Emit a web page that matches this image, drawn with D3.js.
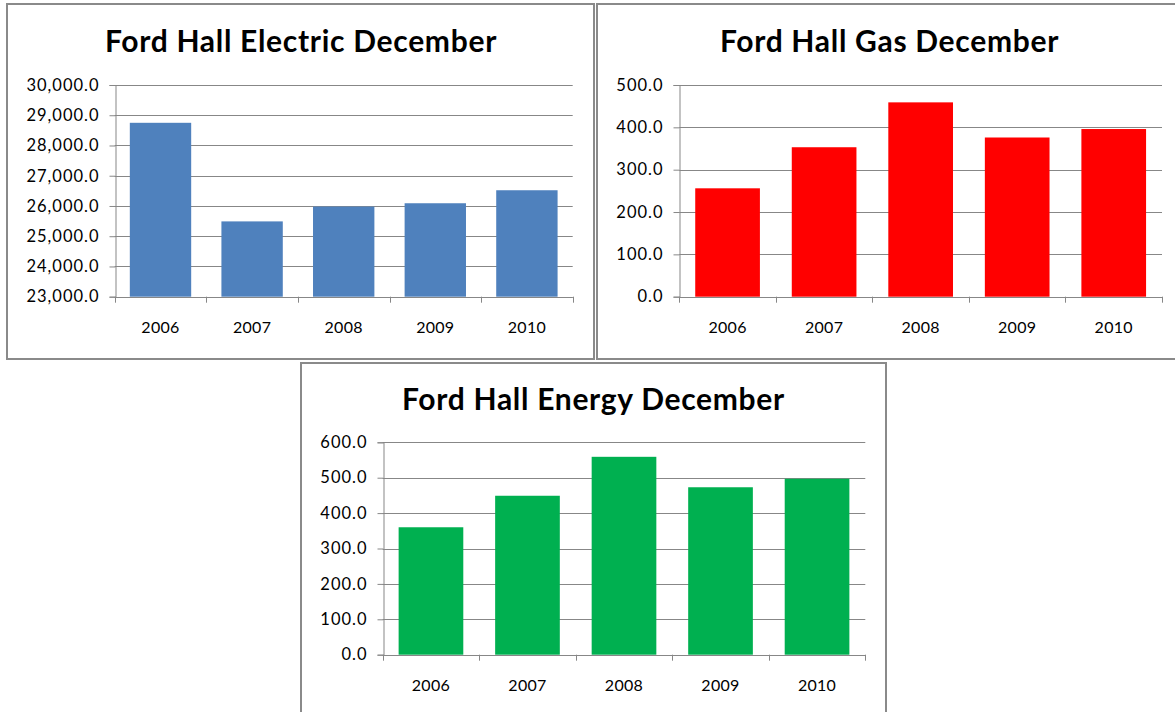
<!DOCTYPE html>
<html>
<head>
<meta charset="utf-8">
<script src="https://cdn.jsdelivr.net/npm/d3@7"></script>
<style>
  body { margin: 0; background: #fff; }
  text { font-family: Lato, "Open Sans", sans-serif; fill: #000; }
</style>
</head>
<body>
<svg id="chart" width="1175" height="712"></svg>
<script>
const years = ["2006", "2007", "2008", "2009", "2010"];
const electricValues = [28750, 25490, 25980, 26090, 26520];
const gasValues = [256, 353, 459, 376, 396];
const energyValues = [360, 449, 559, 473, 497];
const electricTicks = [23000, 24000, 25000, 26000, 27000, 28000, 29000, 30000];
const gasTicks = [0, 100, 200, 300, 400, 500];
const energyTicks = [0, 100, 200, 300, 400, 500, 600];

const svg = d3.select("#chart");
const fmt = d3.format(",.1f");

// one chart panel: frame box, title, gridlines, axes, bars
const drawChart = (opt) => {
  const g = svg.append("g");

  g.append("rect")
    .attr("x", opt.frame[0])
    .attr("y", opt.frame[1])
    .attr("width", opt.frame[2])
    .attr("height", opt.frame[3])
    .attr("fill", "#fff")
    .attr("stroke", "#8a8a8a")
    .attr("stroke-width", 2);

  g.append("text")
    .attr("x", opt.titleX)
    .attr("y", opt.titleY)
    .attr("text-anchor", "middle")
    .style("font-weight", "bold")
    .style("font-size", "30px")
    .style("letter-spacing", "0.7px")
    .text(opt.title);

  const x = d3.scaleBand()
    .domain(years)
    .range([opt.left, opt.right])
    .paddingInner(0.33)
    .paddingOuter(0.165);

  const y = d3.scaleLinear()
    .domain(d3.extent(opt.ticks))
    .range([opt.bottom, opt.top]);

  // horizontal gridlines
  g.append("g")
    .selectAll("line")
    .data(opt.ticks)
    .enter()
    .append("line")
    .attr("x1", opt.left)
    .attr("x2", opt.right)
    .attr("y1", (d) => Math.round(y(d)) + 0.5)
    .attr("y2", (d) => Math.round(y(d)) + 0.5)
    .attr("stroke", "#878787");

  // y axis
  const yAxis = g.append("g")
    .attr("transform", `translate(${Math.round(opt.left) + 0.5},0)`)
    .call(d3.axisLeft(y).tickValues(opt.ticks).tickFormat(fmt).tickSize(6).tickPadding(10));
  yAxis.select(".domain").attr("stroke", "#878787");
  yAxis.selectAll(".tick line").attr("stroke", "#878787");
  yAxis.selectAll("text")
    .style("font-size", "16.5px")
    .style("letter-spacing", "1px")
    .attr("fill", "#000");

  // bars
  g.append("g")
    .selectAll("rect")
    .data(opt.values)
    .enter()
    .append("rect")
    .attr("x", (d, i) => x(years[i]))
    .attr("width", x.bandwidth())
    .attr("y", (d) => y(d))
    .attr("height", (d) => opt.bottom - y(d))
    .attr("fill", opt.color);

  // x axis: baseline with ticks at category boundaries
  const bounds = d3.range(years.length + 1).map((i) => opt.left + i * x.step());
  const xg = g.append("g");
  xg.append("line")
    .attr("x1", opt.left)
    .attr("x2", opt.right)
    .attr("y1", Math.round(opt.bottom) + 0.5)
    .attr("y2", Math.round(opt.bottom) + 0.5)
    .attr("stroke", "#878787");
  xg.selectAll(".xt")
    .data(bounds)
    .enter()
    .append("line")
    .attr("class", "xt")
    .attr("x1", (d) => Math.round(d) + 0.5)
    .attr("x2", (d) => Math.round(d) + 0.5)
    .attr("y1", opt.bottom)
    .attr("y2", opt.bottom + 6)
    .attr("stroke", "#878787");
  xg.selectAll(".xl")
    .data(years)
    .enter()
    .append("text")
    .attr("class", "xl")
    .attr("x", (d) => x(d) + x.bandwidth() / 2)
    .attr("y", opt.bottom + 36)
    .attr("text-anchor", "middle")
    .style("font-size", "16px")
    .style("letter-spacing", "0.3px")
    .text((d) => d);
};

drawChart({
  title: "Ford Hall Electric December",
  frame: [7, 4, 587, 355],
  titleX: 301, titleY: 52,
  left: 114.7, right: 572.7, top: 85, bottom: 296.7,
  ticks: electricTicks, values: electricValues, color: "#4f81bd",
});

drawChart({
  title: "Ford Hall Gas December",
  frame: [597, 4, 590, 355],
  titleX: 889.5, titleY: 52,
  left: 679.3, right: 1162, top: 85, bottom: 296.7,
  ticks: gasTicks, values: gasValues, color: "#ff0000",
});

drawChart({
  title: "Ford Hall Energy December",
  frame: [301, 363, 585, 360],
  titleX: 593.5, titleY: 410,
  left: 382.7, right: 865.3, top: 442.3, bottom: 654.7,
  ticks: energyTicks, values: energyValues, color: "#00b050",
});
</script>
</body>
</html>
